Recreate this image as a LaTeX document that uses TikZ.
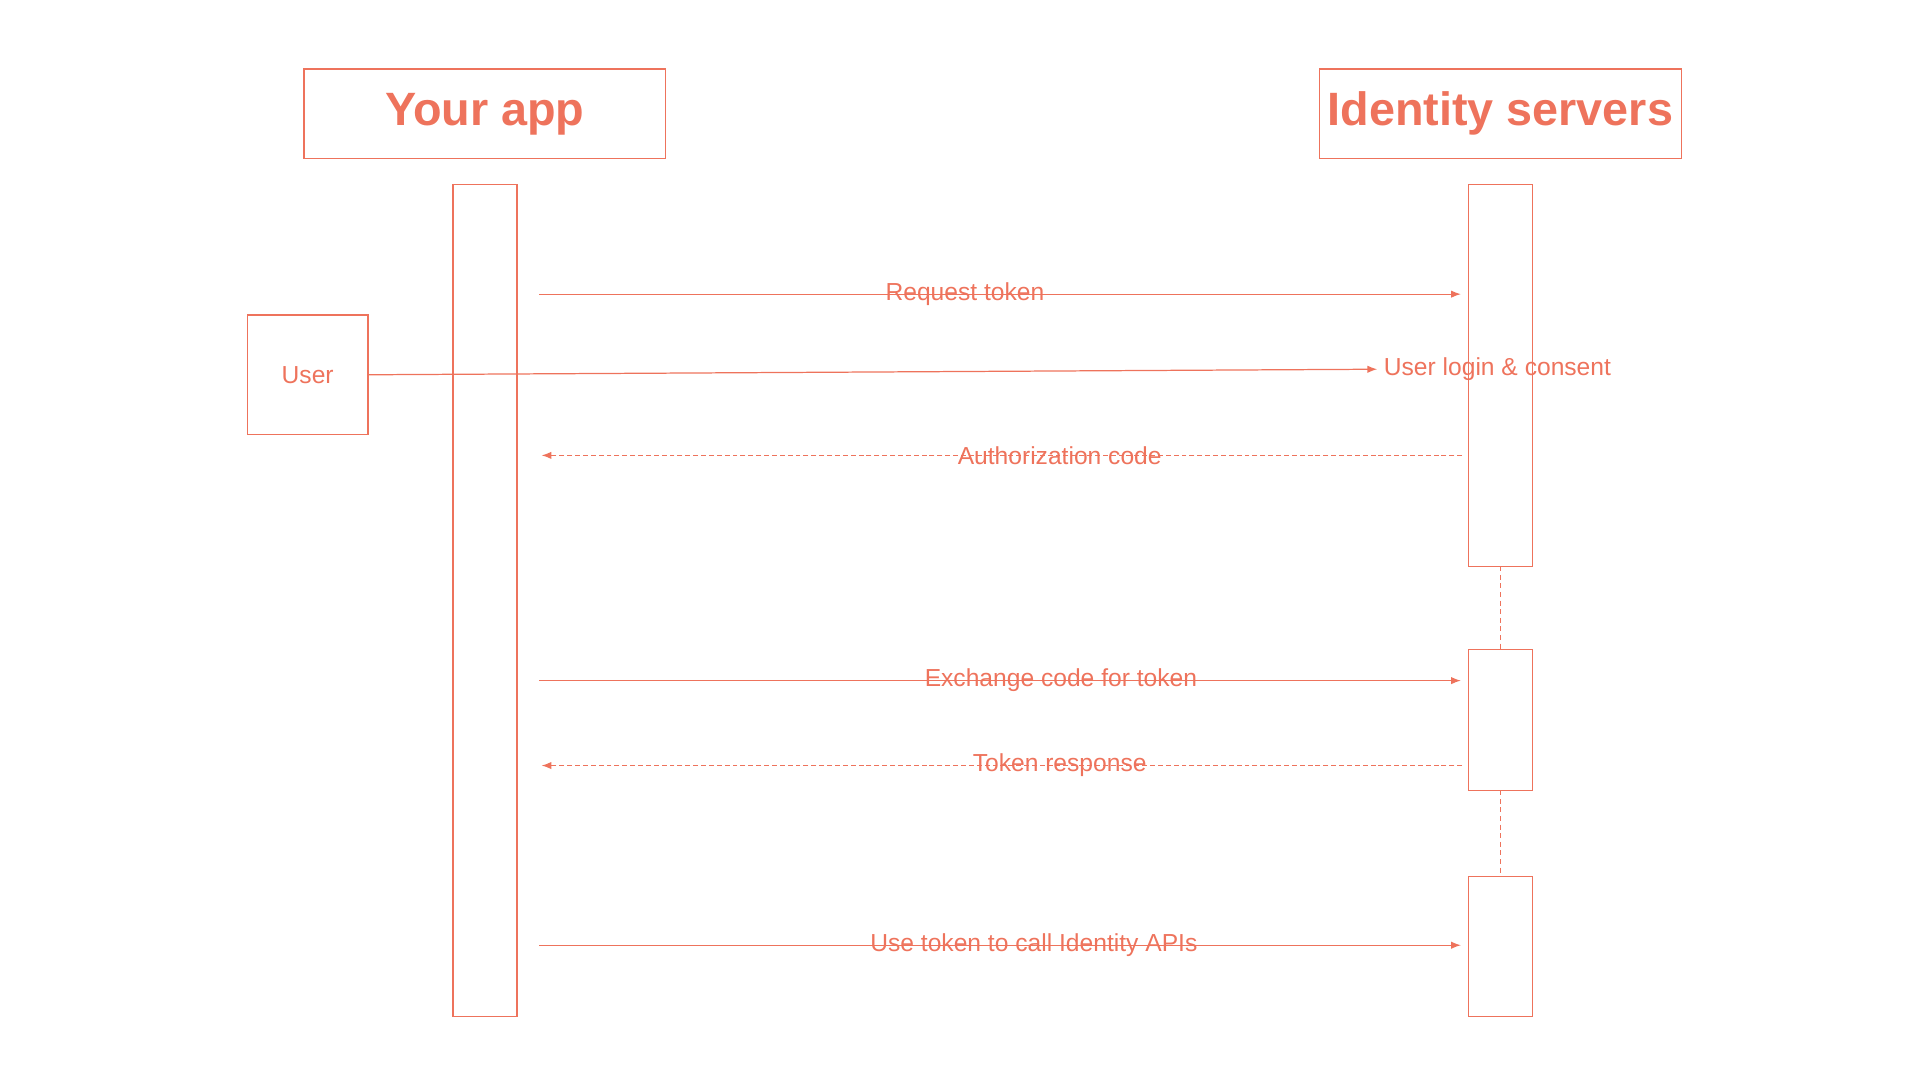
\documentclass[tikz,border=0pt]{standalone}
\usepackage{fontspec}
\setmainfont{Liberation Sans}
\usetikzlibrary{arrows.meta}
\usetikzlibrary{positioning}
\definecolor{salmon}{HTML}{EE735C}

\begin{document}
\begin{tikzpicture}[x=0.5pt,y=-0.5pt,
    every node/.style={text=salmon,inner sep=0pt},
    box/.style={draw=salmon,line width=0.5pt},
    msg/.style={salmon,line width=0.5pt,-{Latex[length=4pt,width=3pt]}},
    reply/.style={msg,dash pattern=on 2pt off 1.2pt},
    lbl/.style={font=\fontsize{10}{12}\selectfont},
    head/.style={box,minimum width=147pt,minimum height=36.5pt,font=\fontsize{19}{23}\selectfont\bfseries}]

            \useasboundingbox (0,0) rectangle (1560,877.5);

            % participants
            \node (app) [head] at (394,92.5) {Your app};
            \node (ids) [head] at (1219,92.5) {Identity servers};
            \node (user) [box,minimum width=49pt,minimum height=48.5pt,lbl] at (250,304.5) {User};

            % activation bars
            \draw [box] (368,150) rectangle (420,826);
            \draw [box] (1193,150) rectangle (1245,460);
            \draw [box] (1193,528) rectangle (1245,642);
            \draw [box] (1193,712) rectangle (1245,826);
            \draw [salmon,line width=0.4pt,dash pattern=on 2pt off 1.5pt] (1219,460) -- (1219,528);
            \draw [salmon,line width=0.4pt,dash pattern=on 2pt off 1.5pt] (1219,642) -- (1219,712);

            % messages
            \coordinate (r1a) at (438,239);  \coordinate (r1b) at (1187,239);
            \coordinate (lg)  at (1119,300);
            \coordinate (r3a) at (1188,370); \coordinate (r3b) at (440,370);
            \coordinate (r4a) at (438,553);  \coordinate (r4b) at (1187,553);
            \coordinate (r5a) at (1188,622); \coordinate (r5b) at (440,622);
            \coordinate (r6a) at (438,768);  \coordinate (r6b) at (1187,768);

            \draw [msg] (r1a) -- (r1b);
            \node (t1) [lbl] at (784,239) {Request token};
            \draw [msg] (user.east) -- (lg);
            \node (t2) [lbl,anchor=west] at (1124,300) {User login \& consent};
            \draw [reply] (r3a) -- (r3b);
            \node (t3) [lbl] at (861,370) {Authorization code};
            \draw [msg] (r4a) -- (r4b);
            \node (t4) [lbl] at (862,553) {Exchange code for token};
            \draw [reply] (r5a) -- (r5b);
            \node (t5) [lbl] at (861,622) {Token response};
            \draw [msg] (r6a) -- (r6b);
            \node (t6) [lbl] at (840,768) {Use token to call Identity APIs};

\end{tikzpicture}
\end{document}
